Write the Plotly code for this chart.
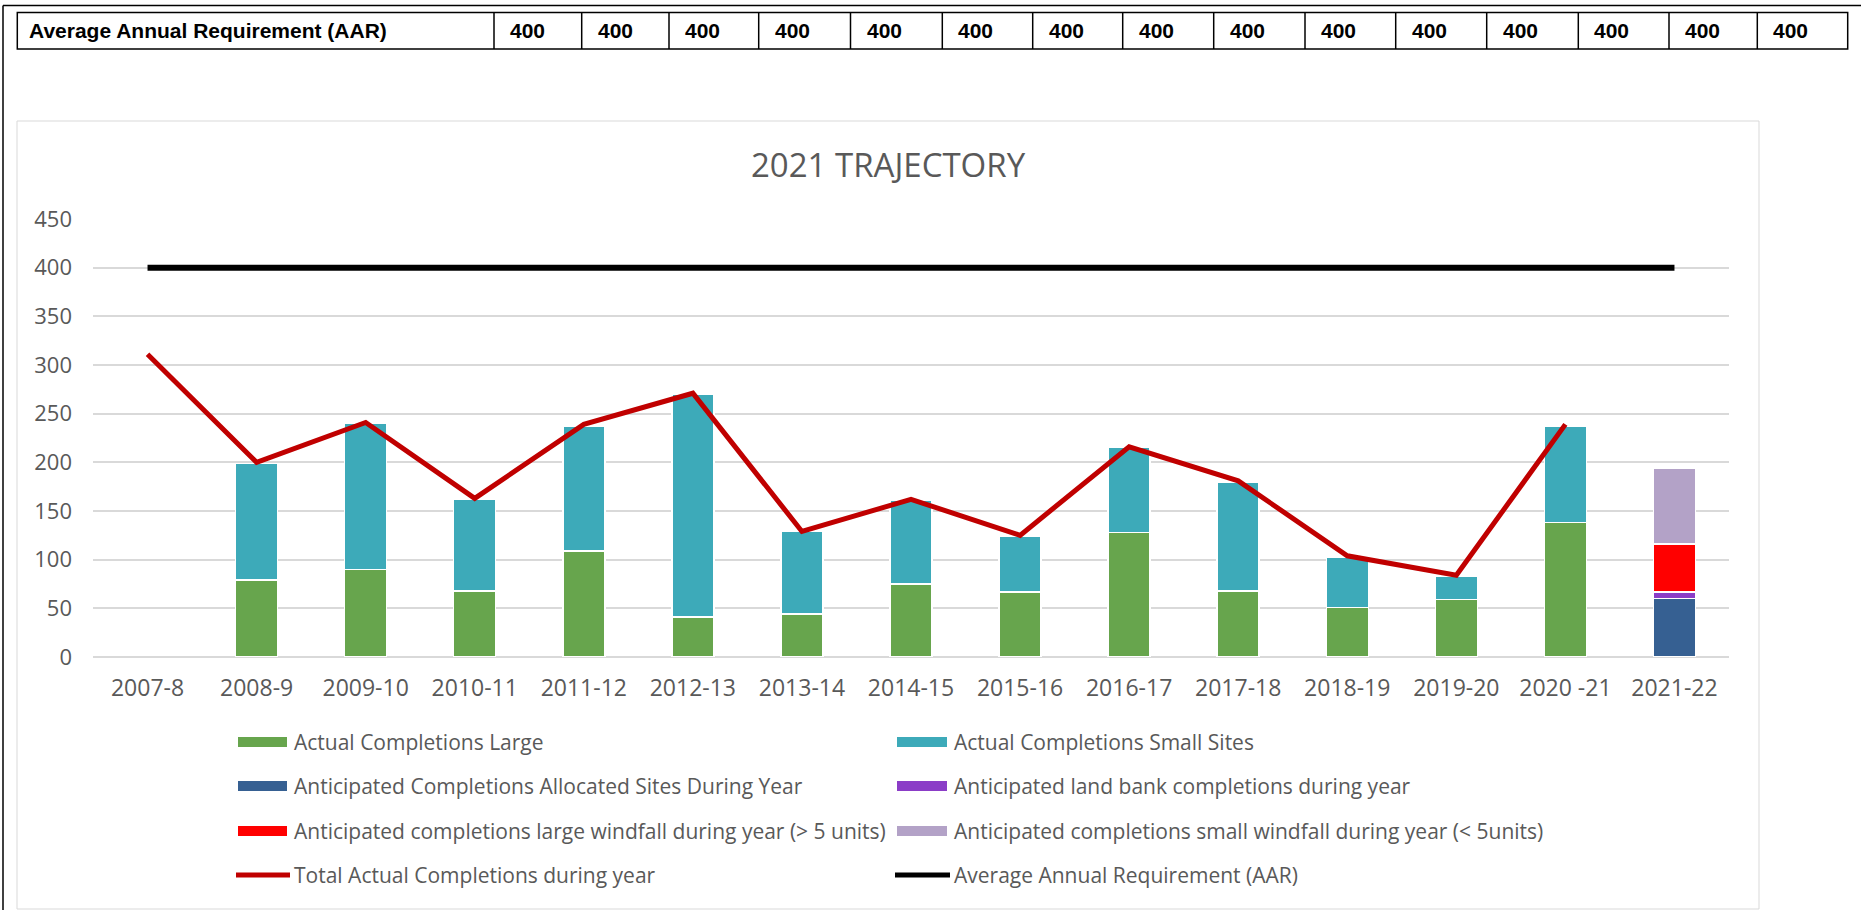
import plotly.graph_objects as go

# ---------------- data ----------------
years = ["2007-8", "2008-9", "2009-10", "2010-11", "2011-12", "2012-13", "2013-14",
         "2014-15", "2015-16", "2016-17", "2017-18", "2018-19", "2019-20", "2020 -21", "2021-22"]
actual_large = [None, 79, 90, 68, 109, 41, 44, 75, 67, 128, 68, 51, 59, 138, None]
actual_small = [None, 120, 150, 94, 128, 229, 85, 86, 57, 88, 112, 52, 24, 99, None]
anticipated_allocated = [None, None, None, None, None, None, None, None, None, None, None, None, None, None, 60]
anticipated_landbank = [None, None, None, None, None, None, None, None, None, None, None, None, None, None, 7]
anticipated_large_windfall = [None, None, None, None, None, None, None, None, None, None, None, None, None, None, 49]
anticipated_small_windfall = [None, None, None, None, None, None, None, None, None, None, None, None, None, None, 78]
total_actual = [311, 200, 241, 163, 239, 271, 129, 162, 125, 216, 181, 104, 84, 239, None]
aar = [400, 400, 400, 400, 400, 400, 400, 400, 400, 400, 400, 400, 400, 400, 400]
table_label = "Average Annual Requirement (AAR)"
table_values = [400, 400, 400, 400, 400, 400, 400, 400, 400, 400, 400, 400, 400, 400, 400]

names = ["Actual Completions Large", "Actual Completions Small Sites",
         "Anticipated Completions Allocated Sites During Year", "Anticipated land bank completions during year",
         "Anticipated completions large windfall during year (> 5 units)",
         "Anticipated completions small windfall during year (< 5units)",
         "Total Actual Completions during year", "Average Annual Requirement (AAR)"]
colors = ["#67A54D", "#3DAAB9", "#366092", "#8B3DC7", "#FF0000", "#B3A2C7", "#C00000", "#000000"]

# ---------------- layout constants ----------------
W, H = 1861, 910
L, R, T, B = 93, 1729, 219, 657
def px(x):
    return (x - L) / (R - L)
def py(y):
    return (B - y) / (B - T)

FONT = "Open Sans, Noto Sans, sans-serif"
GRAY = "#595959"

fig = go.Figure()
bar_series = [actual_large, actual_small, anticipated_allocated, anticipated_landbank,
              anticipated_large_windfall, anticipated_small_windfall]
for vals, nm, col in zip(bar_series, names[:6], colors[:6]):
    fig.add_trace(go.Bar(x=years, y=vals, name=nm, marker=dict(color=col, line=dict(color="white", width=1.5)),
                         showlegend=False))
fig.add_trace(go.Scatter(x=years, y=total_actual, name=names[6], mode="lines",
                         line=dict(color=colors[6], width=5), showlegend=False))
fig.add_trace(go.Scatter(x=years, y=aar, name=names[7], mode="lines",
                         line=dict(color=colors[7], width=6), showlegend=False))

shapes = []
annotations = []

# outer page frame
shapes.append(dict(type="line", xref="paper", yref="paper", x0=px(3), x1=px(1861), y0=py(5.5), y1=py(5.5),
                   line=dict(color="black", width=1.5)))
shapes.append(dict(type="line", xref="paper", yref="paper", x0=px(3), x1=px(3), y0=py(5.5), y1=py(910),
                   line=dict(color="black", width=1.5)))

# table
col_edges = [17.3, 494, 581.7, 669, 758.7, 850.5, 942.3, 1032.7, 1122.7, 1213.7, 1305, 1395.7,
             1486.7, 1578.3, 1669, 1757.3, 1847.7]
t_top, t_bot = 12.5, 49
shapes.append(dict(type="rect", xref="paper", yref="paper", x0=px(col_edges[0]), x1=px(col_edges[-1]),
                   y0=py(t_top), y1=py(t_bot), line=dict(color="black", width=1.5)))
for xe in col_edges[1:-1]:
    shapes.append(dict(type="line", xref="paper", yref="paper", x0=px(xe), x1=px(xe), y0=py(t_top), y1=py(t_bot),
                       line=dict(color="black", width=1.5)))
TFONT = dict(family="Liberation Sans, Arial, sans-serif", size=21, color="black", weight="bold")
annotations.append(dict(text=table_label, xref="paper", yref="paper", x=px(27), y=py(31), xanchor="left",
                        yanchor="middle", showarrow=False, font=TFONT))
for i, v in enumerate(table_values):
    annotations.append(dict(text=str(v), xref="paper", yref="paper", x=px(col_edges[i + 1] + 14), y=py(31),
                            xanchor="left", yanchor="middle", showarrow=False, font=TFONT))

# chart box
shapes.append(dict(type="rect", xref="paper", yref="paper", x0=px(17), x1=px(1759), y0=py(121), y1=py(909),
                   line=dict(color="#D9D9D9", width=1), layer="below"))

# title
annotations.append(dict(text="2021 TRAJECTORY", xref="paper", yref="paper", x=px(888), y=py(164),
                        xanchor="center", yanchor="middle", showarrow=False,
                        font=dict(family=FONT, size=33, color=GRAY)))

# custom legend
rows_y = [742, 786, 831, 875]
sw_x = [(238, 287), (897, 947)]
txt_x = [292, 952]
for k, (nm, col) in enumerate(zip(names, colors)):
    r, c = divmod(k, 2)
    yc = rows_y[r]
    x0, x1 = sw_x[c]
    if k < 6:
        shapes.append(dict(type="rect", xref="paper", yref="paper", x0=px(x0), x1=px(x1),
                           y0=py(yc - 5), y1=py(yc + 5), fillcolor=col, line=dict(width=0)))
    else:
        shapes.append(dict(type="line", xref="paper", yref="paper", x0=px(x0 - 2), x1=px(x1 + 3),
                           y0=py(yc), y1=py(yc), line=dict(color=col, width=5)))
    annotations.append(dict(text=nm, xref="paper", yref="paper", x=px(txt_x[c]), y=py(yc),
                            xanchor="left", yanchor="middle", showarrow=False,
                            font=dict(family=FONT, size=21, color=GRAY)))

fig.update_layout(
    width=W, height=H, autosize=False,
    margin=dict(l=L, r=W - R, t=T, b=H - B, pad=0),
    paper_bgcolor="white", plot_bgcolor="white",
    barmode="stack", bargap=0.615,
    showlegend=False,
    shapes=shapes, annotations=annotations,
    xaxis=dict(type="category", categoryorder="array", categoryarray=years, showgrid=False,
               showline=False, ticks="", tickfont=dict(family=FONT, size=23, color=GRAY),
               ticklabelstandoff=15, fixedrange=True),
    yaxis=dict(range=[0, 450], dtick=50, showgrid=True, gridcolor="#D9D9D9", gridwidth=1.5,
               zeroline=True, zerolinecolor="#D9D9D9", zerolinewidth=1.5, showline=False, ticks="",
               tickfont=dict(family=FONT, size=22, color=GRAY), ticklabelstandoff=20, fixedrange=True),
)

fig.write_html("out.html", config={"displayModeBar": False},
               post_script="document.body.style.margin='0px';document.body.style.overflow='hidden';")
